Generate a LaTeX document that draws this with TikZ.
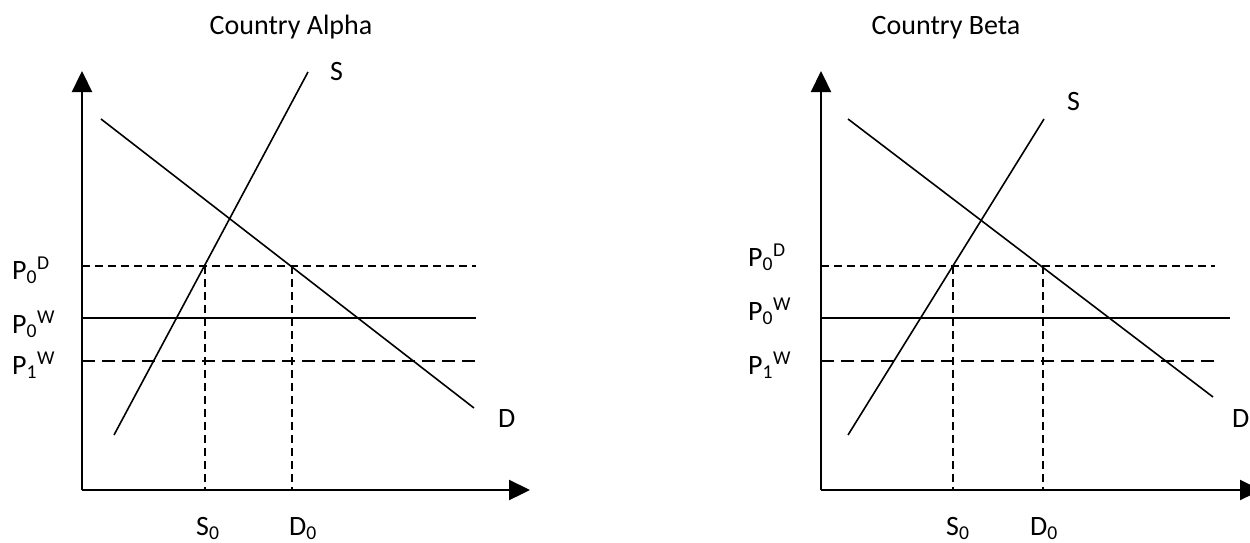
\documentclass[tikz,border=0pt]{standalone}
\usepackage{fontspec}
\setmainfont{Carlito}
\usetikzlibrary{arrows.meta}
\begin{document}
\begin{tikzpicture}[x=1pt,y=-1pt,
  axis/.style={line width=2.3pt,-{Triangle[length=21pt,width=20pt]}},
  curve/.style={line width=1.6pt},
  sdash/.style={line width=1.4pt,dash pattern=on 8pt off 5pt},
  ldash/.style={line width=1.5pt,dash pattern=on 13pt off 7pt},
  solidp/.style={line width=1.6pt},
  lbl/.style={inner sep=0pt,anchor=base west,font=\fontsize{28}{33}\selectfont},
  ttl/.style={inner sep=0pt,anchor=base,font=\fontsize{28}{33}\selectfont}]
\useasboundingbox (0,0) rectangle (1250,542);
% ---------- Country Alpha ----------
\coordinate (aO) at (82,490);
\coordinate (aY) at (82,71);
\coordinate (aX) at (530,490);
\coordinate (aS1) at (114,435);
\coordinate (aS2) at (308,72);
\coordinate (aD1) at (101,119);
\coordinate (aD2) at (474,408);
\coordinate (aPD1) at (82,266);
\coordinate (aPD2) at (476,266);
\coordinate (aPW1) at (82,318);
\coordinate (aPW2) at (476,318);
\coordinate (aPL1) at (82,361);
\coordinate (aPL2) at (476,361);
\coordinate (aV1t) at (205,266);
\coordinate (aV1b) at (205,490);
\coordinate (aV2t) at (292,266);
\coordinate (aV2b) at (292,490);
\draw[axis] (aO) -- (aY);
\draw[axis] (aO) -- (aX);
\draw[curve] (aS1) -- (aS2);
\draw[curve] (aD1) -- (aD2);
\draw[sdash] (aPD1) -- (aPD2);
\draw[solidp] (aPW1) -- (aPW2);
\draw[ldash] (aPL1) -- (aPL2);
\draw[sdash] (aV1t) -- (aV1b);
\draw[sdash] (aV2t) -- (aV2b);
\node[ttl] (aTitle) at (291,34) {Country Alpha};
\node[lbl] (aSl) at (330,80) {S};
\node[lbl] (aDl) at (498,427) {D};
\node[lbl] (aP0D) at (12,279) {P\textsubscript{0}\textsuperscript{D}};
\node[lbl] (aP0W) at (12,333) {P\textsubscript{0}\textsuperscript{W}};
\node[lbl] (aP1W) at (12,374) {P\textsubscript{1}\textsuperscript{W}};
\node[lbl] (aS0) at (196,535) {S\textsubscript{0}};
\node[lbl] (aD0) at (289,535) {D\textsubscript{0}};
% ---------- Country Beta ----------
\coordinate (bO) at (821,490);
\coordinate (bY) at (821,71);
\coordinate (bX) at (1261,490);
\coordinate (bS1) at (848,435);
\coordinate (bS2) at (1044,119);
\coordinate (bD1) at (848,119);
\coordinate (bD2) at (1213,397);
\coordinate (bPD1) at (821,266);
\coordinate (bPD2) at (1215,266);
\coordinate (bPW1) at (821,318);
\coordinate (bPW2) at (1230,318);
\coordinate (bPL1) at (821,361);
\coordinate (bPL2) at (1215,361);
\coordinate (bV1t) at (953,266);
\coordinate (bV1b) at (953,490);
\coordinate (bV2t) at (1043,266);
\coordinate (bV2b) at (1043,490);
\draw[axis] (bO) -- (bY);
\draw[axis] (bO) -- (bX);
\draw[curve] (bS1) -- (bS2);
\draw[curve] (bD1) -- (bD2);
\draw[sdash] (bPD1) -- (bPD2);
\draw[solidp] (bPW1) -- (bPW2);
\draw[ldash] (bPL1) -- (bPL2);
\draw[sdash] (bV1t) -- (bV1b);
\draw[sdash] (bV2t) -- (bV2b);
\node[ttl] (bTitle) at (946,34) {Country Beta};
\node[lbl] (bSl) at (1067,110) {S};
\node[lbl] (bDl) at (1232,427) {D};
\node[lbl] (bP0D) at (748,266) {P\textsubscript{0}\textsuperscript{D}};
\node[lbl] (bP0W) at (748,320) {P\textsubscript{0}\textsuperscript{W}};
\node[lbl] (bP1W) at (748,374) {P\textsubscript{1}\textsuperscript{W}};
\node[lbl] (bS0) at (946,535) {S\textsubscript{0}};
\node[lbl] (bD0) at (1030,535) {D\textsubscript{0}};
\end{tikzpicture}
\end{document}
